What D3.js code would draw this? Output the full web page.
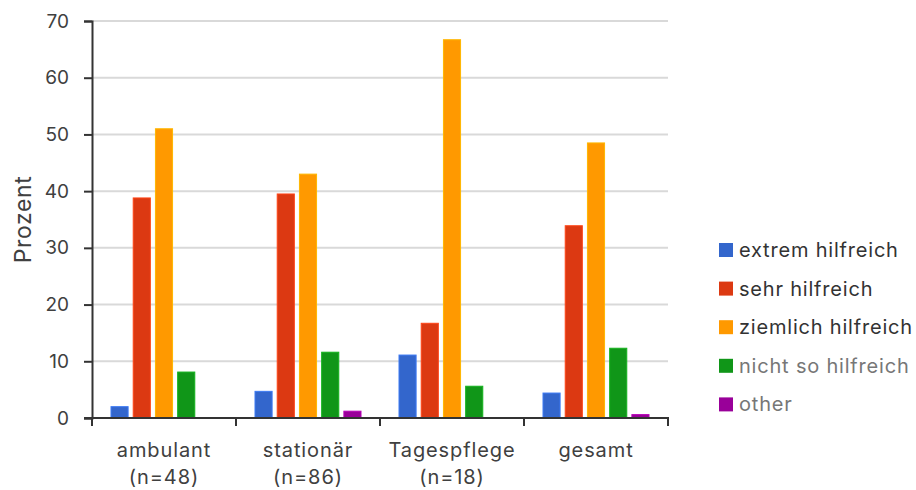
<!DOCTYPE html>
<html>
<head>
<meta charset="utf-8">
<script src="https://cdn.jsdelivr.net/npm/d3@7"></script>
<style>
  html, body { margin: 0; padding: 0; background: #fff; }
  svg { display: block; font-family: Inter, "Noto Sans", sans-serif; }
</style>
</head>
<body>
<svg id="chart" width="916" height="490"></svg>
<script>
// Categories (two-line labels) and answer groups
const categories = ["ambulant", "stationär", "Tagespflege", "gesamt"];
const categorySubLabels = ["(n=48)", "(n=86)", "(n=18)", ""];
const seriesNames = ["extrem hilfreich", "sehr hilfreich", "ziemlich hilfreich", "nicht so hilfreich", "other"];

// Percentages per category, one array per answer
const extremHilfreich   = [2.0, 4.7, 11.1, 4.4];
const sehrHilfreich     = [38.8, 39.5, 16.7, 33.9];
const ziemlichHilfreich = [51.0, 43.0, 66.7, 48.5];
const nichtSoHilfreich  = [8.1, 11.6, 5.6, 12.3];
const other             = [0, 1.2, 0, 0.6];

const yTicks = [0, 10, 20, 30, 40, 50, 60, 70];

const seriesValues = [extremHilfreich, sehrHilfreich, ziemlichHilfreich, nichtSoHilfreich, other];
const colors = ["#3366CC", "#DC3912", "#FF9900", "#109618", "#990099"];
const legendTextColors = ["#333", "#333", "#333", "#777", "#777"];

const svg = d3.select("#chart");
const margin = { left: 92, right: 248, top: 21, bottom: 72 };
const W = 916, H = 490;
const plotW = W - margin.left - margin.right;   // 576
const plotH = H - margin.top - margin.bottom;   // 397

const x0 = d3.scaleBand().domain(categories).range([0, plotW]).paddingInner(0).paddingOuter(0);
const x1 = d3.scaleBand().domain(seriesNames).range([19, 125]).paddingInner(0.23).paddingOuter(0);
const y = d3.scaleLinear().domain([0, 70]).range([plotH, 0]);

const g = svg.append("g").attr("transform", `translate(${margin.left},${margin.top})`);

// Horizontal gridlines
g.append("g")
  .selectAll("line")
  .data(yTicks.filter(t => t > 0))
  .join("line")
  .attr("x1", 0).attr("x2", plotW)
  .attr("y1", d => y(d)).attr("y2", d => y(d))
  .attr("stroke", "#d9d9d9").attr("stroke-width", 2);

// Bars
const groups = g.append("g")
  .selectAll("g")
  .data(categories)
  .join("g")
  .attr("transform", d => `translate(${x0(d)},0)`);

groups.selectAll("rect")
  .data((c, ci) => seriesNames.map((s, si) => ({ s, si, v: seriesValues[si][ci] })).filter(d => d.v > 0))
  .join("rect")
  .attr("x", d => x1(d.s))
  .attr("width", x1.bandwidth())
  .attr("y", d => y(d.v))
  .attr("height", d => plotH - y(d.v))
  .attr("fill", d => colors[d.si])
  .attr("stroke", d => d3.color(colors[d.si]).brighter(0.5))
  .attr("stroke-width", 1);

// Y axis
const yAxis = g.append("g")
  .call(d3.axisLeft(y).tickValues(yTicks).tickSize(8).tickPadding(15).tickFormat(d3.format("d")));
yAxis.select(".domain").attr("stroke", "#333").attr("stroke-width", 2);
yAxis.selectAll(".tick line").attr("stroke", "#333").attr("stroke-width", 2);
yAxis.selectAll(".tick text").attr("fill", "#404040").style("font-size", "19px").style("font-family", "Inter, 'Noto Sans', sans-serif");

// X axis line and boundary ticks
g.append("line")
  .attr("x1", -8).attr("x2", plotW + 1)
  .attr("y1", plotH).attr("y2", plotH)
  .attr("stroke", "#333").attr("stroke-width", 2);

const boundaries = categories.map(c => x0(c)).concat([plotW]);
g.append("g")
  .selectAll("line")
  .data(boundaries)
  .join("line")
  .attr("x1", d => d).attr("x2", d => d)
  .attr("y1", plotH).attr("y2", plotH + 8)
  .attr("stroke", "#333").attr("stroke-width", 2);

// Category labels
const xLabels = g.append("g")
  .selectAll("text")
  .data(categories)
  .join("text")
  .attr("x", d => x0(d) + x0.bandwidth() / 2)
  .attr("y", plotH + 39)
  .attr("text-anchor", "middle")
  .attr("fill", "#404040")
  .style("font-size", "20px")
  .style("letter-spacing", "0.9px");
xLabels.append("tspan").text(d => d);
xLabels.append("tspan")
  .attr("x", d => x0(d) + x0.bandwidth() / 2)
  .attr("dy", 27)
  .text((d, i) => categorySubLabels[i]);

// Y axis title
svg.append("text")
  .attr("transform", `translate(31,${margin.top + plotH / 2}) rotate(-90)`)
  .attr("text-anchor", "middle")
  .attr("fill", "#404040")
  .style("font-size", "23px")
  .style("letter-spacing", "0.6px")
  .text("Prozent");

// Legend
const legend = svg.append("g").attr("transform", "translate(719,250)");
const items = legend.selectAll("g")
  .data(seriesNames)
  .join("g")
  .attr("transform", (d, i) => `translate(0,${i * 38.6})`);
items.append("rect")
  .attr("x", 0).attr("y", -7).attr("width", 14).attr("height", 14)
  .attr("fill", (d, i) => colors[i]);
items.append("text")
  .attr("x", 20).attr("y", 0).attr("dy", "0.35em")
  .attr("fill", (d, i) => legendTextColors[i])
  .style("font-size", "20px")
  .style("letter-spacing", "0.8px")
  .text(d => d);
</script>
</body>
</html>
